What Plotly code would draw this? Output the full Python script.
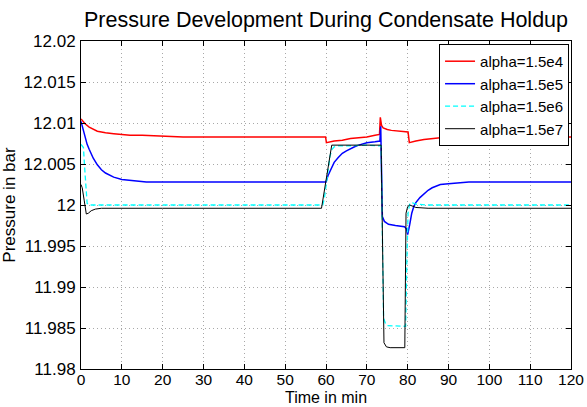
import plotly.graph_objects as go

# ---- data ----
names = ["alpha=1.5e4", "alpha=1.5e5", "alpha=1.5e6", "alpha=1.5e7"]
colors = ["#ff0000", "#0000ff", "#00ffff", "#000000"]

t_red = [0, 0.5, 1, 2, 3, 4, 5, 6, 8, 10, 12, 15, 20, 25, 30, 40, 50, 59.9, 60.1, 62, 64, 66, 68, 70, 72,
         73.1, 73.3, 73.6, 74, 75, 76, 78, 80.1, 80.4, 81, 82, 84, 86, 88, 90, 95, 100, 110, 120]
p_red = [12.0105, 12.0102, 12.0099, 12.0095, 12.0092, 12.0090, 12.0089, 12.0088, 12.0087, 12.0086, 12.0085,
         12.0085, 12.0084, 12.0083, 12.0083, 12.0083, 12.0083, 12.0083, 12.0076, 12.0078, 12.0079, 12.0081,
         12.0082, 12.0083, 12.0085, 12.0086, 12.0107, 12.0097, 12.0094, 12.0092, 12.0091, 12.0090, 12.0089,
         12.0076, 12.0077, 12.0078, 12.0080, 12.0081, 12.0082, 12.0082, 12.0083, 12.0083, 12.0083, 12.0083]

t_blue = [0, 0.5, 1, 1.5, 2, 3, 4, 5, 6, 7, 8, 10, 12, 14, 16, 20, 30, 40, 50, 60, 60.5, 61, 62, 63, 64, 65,
          66, 67, 68, 70, 72, 73.2, 73.4, 73.8, 74.3, 75.3, 77, 79.2, 79.7, 80.0, 80.5, 81, 81.5, 82, 83, 84,
          85, 86, 87, 88, 90, 92, 95, 100, 110, 120]
p_blue = [12.0102, 12.0092, 12.0082, 12.0074, 12.0068, 12.0057, 12.0049, 12.0043, 12.0039, 12.0036, 12.0034,
          12.0031, 12.0030, 12.0029, 12.0028, 12.0028, 12.0028, 12.0028, 12.0028, 12.0028, 12.0036, 12.0042,
          12.0052, 12.0058, 12.0063, 12.0066, 12.0069, 12.0071, 12.0073, 12.0076, 12.0077, 12.0078, 12.0096,
          11.9986, 11.9980, 11.99765, 11.9975, 11.99735, 11.9971, 11.9964, 11.9976, 11.9990, 11.9998, 12.0003,
          12.0009, 12.0014, 12.0018, 12.0021, 12.0023, 12.0025, 12.0026, 12.0027, 12.0028, 12.0028, 12.0028,
          12.0028]

t_cyan = [0, 0.6, 0.9, 1.2, 1.5, 2, 3, 5, 20, 40, 59.2, 59.6, 60, 60.5, 61, 61.5, 62, 63, 65, 70, 73.5,
          74.1, 74.6, 75, 79.5, 79.8, 80.1, 80.5, 81, 82, 85, 100, 120]
p_cyan = [12.0074, 12.0070, 12.0045, 12.0015, 12.0002, 12.0000, 12.0000, 12.0000, 12.0000, 12.0000, 12.0000,
          12.0008, 12.0025, 12.0045, 12.0060, 12.0068, 12.0071, 12.0072, 12.0072, 12.0073, 12.0072, 11.9862,
          11.9855, 11.9853, 11.9852, 11.9930, 11.9990, 12.0002, 12.0003, 12.0001, 12.0000, 12.0000, 12.0000]

t_black = [0, 0.3, 0.8, 1.3, 1.8, 2.5, 3.5, 5, 20, 40, 58.9, 61.4, 65, 70, 73.5, 74.2, 74.8, 75.7, 79.3,
           79.6, 80.0, 80.5, 81, 82, 85, 100, 120]
p_black = [12.0025, 12.0021, 12.0005, 11.9989, 11.9990, 11.9993, 11.9995, 11.9996, 11.9996, 11.9996, 11.9996,
           12.0073, 12.0073, 12.0073, 12.0073, 11.9832, 11.9827, 11.9826, 11.9826, 11.9990, 11.9998, 12.0000,
           11.9999, 11.9997, 11.9996, 11.9996, 11.9996]

x_ticks = list(range(0, 121, 10))
y_ticks = [11.98, 11.985, 11.99, 11.995, 12.0, 12.005, 12.01, 12.015, 12.02]
y_tick_text = ["11.98", "11.985", "11.99", "11.995", "12", "12.005", "12.01", "12.015", "12.02"]

series = [(t_red, p_red), (t_blue, p_blue), (t_cyan, p_cyan), (t_black, p_black)]
widths = [1.5, 1.5, 1.3, 1.0]
dashes = ["solid", "solid", "5px,3px", "solid"]

FONT = "Liberation Sans, Arial, Helvetica, sans-serif"

fig = go.Figure()
for (t, p), n, c, w, d in zip(series, names, colors, widths, dashes):
    fig.add_trace(go.Scatter(x=t, y=p, mode="lines", name=n,
                             line=dict(color=c, width=w, dash=d)))

axis_common = dict(showline=True, linecolor="black", linewidth=1, mirror="ticks",
                   ticks="inside", ticklen=5, tickcolor="black", tickwidth=1,
                   showgrid=True, gridcolor="#a8a8a8", griddash="1px,3px", gridwidth=1,
                   zeroline=False, automargin=True)

fig.update_xaxes(range=[0, 120], tickvals=x_ticks, ticktext=[str(v) for v in x_ticks],
                 ticklabelstandoff=-4,
                 tickfont=dict(family=FONT, size=15.5, color="black"),
                 title=dict(text="Time in min", font=dict(family=FONT, size=16, color="black"), standoff=5),
                 **axis_common)
fig.update_yaxes(range=[11.98, 12.02], tickvals=y_ticks, ticktext=y_tick_text,
                 ticklabelstandoff=1,
                 tickfont=dict(family=FONT, size=17, color="black"),
                 title=dict(text="Pressure in bar", font=dict(family=FONT, size=17, color="black"), standoff=4),
                 **axis_common)

fig.update_layout(
    width=587, height=407,
    margin=dict(l=81, r=16, t=41, b=38, pad=0, autoexpand=False),
    paper_bgcolor="white", plot_bgcolor="white",
    font=dict(family=FONT, color="black"),
    title=dict(text="Pressure Development During Condensate Holdup",
               font=dict(family=FONT, size=21.5, color="black"),
               x=0.5, xref="paper", xanchor="center",
               y=1 - 19 / 407, yref="container", yanchor="middle"),
    legend=dict(x=0.996, y=0.991, xanchor="right", yanchor="top",
                bgcolor="white", bordercolor="black", borderwidth=1,
                font=dict(family=FONT, size=15, color="black"),
                itemwidth=30, tracegroupgap=0),
    showlegend=True,
)

fig.write_html("out.html")
